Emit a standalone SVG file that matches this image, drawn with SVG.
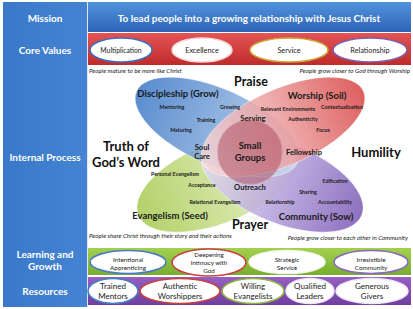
<svg xmlns="http://www.w3.org/2000/svg" width="413" height="309" viewBox="0 0 413 309">
<defs>
<linearGradient id="gLeft" x1="0" y1="0" x2="1" y2="0"><stop offset="0" stop-color="#3a78c9"/><stop offset="1" stop-color="#4584d2"/></linearGradient>
<linearGradient id="gMission" x1="0" y1="0" x2="0" y2="1"><stop offset="0" stop-color="#5294de"/><stop offset="1" stop-color="#2d63b5"/></linearGradient>
<linearGradient id="gCore" x1="0" y1="0" x2="0" y2="1"><stop offset="0" stop-color="#e45454"/><stop offset="1" stop-color="#bf2b2b"/></linearGradient>
<linearGradient id="gLearn" x1="0" y1="0" x2="0" y2="1"><stop offset="0" stop-color="#a3d14f"/><stop offset="1" stop-color="#78ad2e"/></linearGradient>
<linearGradient id="gRes" x1="0" y1="0" x2="0" y2="1"><stop offset="0" stop-color="#9660c2"/><stop offset="1" stop-color="#6f3e9e"/></linearGradient>
<linearGradient id="vBlue" x1="0" y1="0" x2="1" y2="0"><stop offset="0" stop-color="#3c78c6"/><stop offset="0.5" stop-color="#7ea6da"/><stop offset="1" stop-color="#cddcf0"/></linearGradient>
<linearGradient id="vRed" x1="0" y1="0" x2="1" y2="0"><stop offset="0" stop-color="#f6dada"/><stop offset="0.5" stop-color="#ec9c9c"/><stop offset="1" stop-color="#d84444"/></linearGradient>
<linearGradient id="vGreen" x1="0" y1="0" x2="1" y2="0"><stop offset="0" stop-color="#a6c94e"/><stop offset="0.55" stop-color="#cde196"/><stop offset="1" stop-color="#eef5dc"/></linearGradient>
<linearGradient id="vPurple" x1="0" y1="0" x2="1" y2="0"><stop offset="0" stop-color="#e6e0f3"/><stop offset="0.5" stop-color="#b5a1dc"/><stop offset="1" stop-color="#7a58b4"/></linearGradient>
<style>
text{font-family:Lato,"Liberation Sans",sans-serif}
.lbl{font-weight:700;fill:#fff;font-size:10px;text-anchor:middle}
.pill{fill:#fff;stroke-width:1.6}
.pt{font-size:7.3px;fill:#222;text-anchor:middle}
.lt{font-size:6.4px;fill:#222;text-anchor:middle}
.rt{font-size:8px;fill:#222;text-anchor:middle}
.big{font-weight:700;font-size:13px;fill:#111;text-anchor:middle}
.head{font-weight:700;font-size:9.5px;fill:#1a1a1a;text-anchor:middle}
.mid{font-weight:700;font-size:7.6px;fill:#1a1a1a;text-anchor:middle}
.sm{font-weight:700;font-size:5.3px;fill:#1a1a1a;text-anchor:middle}
.note{font-style:italic;font-size:6.2px;fill:#222}
.v{fill-opacity:0.85;stroke:#fff;stroke-opacity:0.5;stroke-width:0.8}
</style>
</defs>
<rect width="413" height="309" fill="#fff"/>

<g id="left-column">
<rect x="3" y="2" width="84" height="305" fill="url(#gLeft)"/>
<line x1="87.5" y1="2" x2="87.5" y2="307" stroke="#dfe8f4" stroke-width="1"/>
<text class="lbl" x="45" y="21.5">Mission</text>
<text class="lbl" x="45" y="53.5">Core Values</text>
<text class="lbl" x="45" y="161">Internal Process</text>
<text class="lbl" x="45" y="257.5">Learning and</text>
<text class="lbl" x="45" y="269.5">Growth</text>
<text class="lbl" x="45" y="295">Resources</text>
</g>

<g id="mission">
<rect x="88" y="2" width="323" height="30" fill="url(#gMission)"/>
<text class="lbl" x="249" y="21.5">To lead people into a growing relationship with Jesus Christ</text>
</g>

<g id="core-values">
<rect x="88" y="33" width="323" height="32" fill="url(#gCore)"/>
<g id="cv-multiplication"><ellipse class="pill" cx="121" cy="50" rx="31" ry="12" stroke="#3b6fc0"/><text class="pt" x="121" y="52.5" style="font-size:6.8px">Multiplication</text></g>
<g id="cv-excellence"><ellipse class="pill" cx="202" cy="50" rx="30" ry="12" stroke="#f3d6d6"/><text class="pt" x="202" y="52.5">Excellence</text></g>
<g id="cv-service"><ellipse class="pill" cx="289" cy="50" rx="39" ry="12" stroke="#c9a83a"/><text class="pt" x="289" y="52.5">Service</text></g>
<g id="cv-relationship"><ellipse class="pill" cx="370" cy="50" rx="37" ry="12" stroke="#7c5cab"/><text class="pt" x="370" y="52.5">Relationship</text></g>
</g>

<text class="note" x="89" y="73">People mature to be more like Christ</text>
<text class="note" x="410" y="73" text-anchor="end">People grow closer to God through Worship</text>

<g id="venn">
<g id="evangelism"><ellipse class="v" cx="218" cy="183" rx="86" ry="40" transform="rotate(-22 218 183)" fill="url(#vGreen)"/></g>
<g id="community"><ellipse class="v" cx="282" cy="183" rx="86" ry="40" transform="rotate(22 282 183)" fill="url(#vPurple)"/></g>
<g id="discipleship"><ellipse class="v" cx="217" cy="127" rx="88" ry="38" transform="rotate(24 217 127)" fill="url(#vBlue)"/></g>
<g id="worship"><ellipse class="v" cx="283" cy="127" rx="88" ry="38" transform="rotate(-24 283 127)" fill="url(#vRed)"/></g>
<g id="small-groups"><circle cx="250" cy="152" r="32" fill="#a33a4e" fill-opacity="0.45" stroke="#c98c98" stroke-width="1.2"/>
<text class="head" x="250" y="148.5">Small</text><text class="head" x="250" y="160.5">Groups</text></g>

<text class="head" x="178" y="96.5">Discipleship (Grow)</text>
<text class="sm" x="172" y="109">Mentoring</text>
<text class="sm" x="230" y="109">Growing</text>
<text class="sm" x="206" y="122">Training</text>
<text class="sm" x="181" y="132">Maturing</text>
<text class="mid" x="253" y="121">Serving</text>
<text class="mid" x="202" y="150">Soul</text>
<text class="mid" x="202" y="159">Care</text>

<text class="head" x="317" y="98.5">Worship (Soil)</text>
<text class="sm" x="288" y="111">Relevant Environments</text>
<text class="sm" x="342" y="109">Contextualization</text>
<text class="sm" x="303" y="121">Authenticity</text>
<text class="sm" x="323" y="132">Focus</text>
<text class="mid" x="304" y="155">Fellowship</text>

<text class="sm" x="175" y="176">Personal Evangelism</text>
<text class="sm" x="202" y="187">Acceptance</text>
<text class="sm" x="215" y="204">Relational Evangelism</text>
<text class="head" x="170" y="218.5">Evangelism (Seed)</text>
<text class="mid" x="250" y="190">Outreach</text>

<text class="sm" x="335" y="183">Edification</text>
<text class="sm" x="308" y="194">Sharing</text>
<text class="sm" x="280" y="204">Relationship</text>
<text class="sm" x="335" y="204">Accountability</text>
<text class="head" x="316" y="219.5">Community (Sow)</text>

<text class="big" x="251" y="85.5" style="font-size:12.5px">Praise</text>
<text class="big" x="250" y="228.5" style="font-size:12.5px">Prayer</text>
<text class="big" x="126" y="151">Truth of</text>
<text class="big" x="126" y="167">God’s Word</text>
<text class="big" x="376" y="156.5">Humility</text>
</g>

<text class="note" x="89" y="238">People share Christ through their story and their actions</text>
<text class="note" x="408" y="240" text-anchor="end">People grow closer to each other in Community</text>

<g id="learning-growth">
<rect x="88" y="248" width="323" height="27" fill="url(#gLearn)"/>
<g id="lg-apprenticing"><ellipse class="pill" cx="128" cy="262" rx="38" ry="11.5" stroke="#4a7cc4"/><text class="lt" x="128" y="261.5">Intentional</text><text class="lt" x="128" y="269.5">Apprenticing</text></g>
<g id="lg-intimacy"><ellipse class="pill" cx="209" cy="262.5" rx="37" ry="13.5" stroke="#c84040"/><text class="lt" x="209" y="257.3" style="font-size:6.2px">Deepening</text><text class="lt" x="209" y="265.1" style="font-size:6.2px">Intimacy with</text><text class="lt" x="209" y="272.9" style="font-size:6.2px">God</text></g>
<g id="lg-service"><ellipse class="pill" cx="287" cy="262" rx="38" ry="11.5" stroke="#f4f8ec"/><text class="lt" x="287" y="261.5">Strategic</text><text class="lt" x="287" y="269.5">Service</text></g>
<g id="lg-community"><ellipse class="pill" cx="371" cy="262" rx="37" ry="11.5" stroke="#8a6ab8"/><text class="lt" x="371" y="261.5">Irresistible</text><text class="lt" x="371" y="269.5">Community</text></g>
</g>

<g id="resources">
<rect x="88" y="277" width="323" height="28" fill="url(#gRes)"/>
<g id="r-mentors"><ellipse class="pill" cx="113" cy="291" rx="25" ry="12.5" stroke="#4a7cc4"/><text class="rt" x="113" y="289">Trained</text><text class="rt" x="113" y="299">Mentors</text></g>
<g id="r-worshippers"><ellipse class="pill" cx="180" cy="291" rx="40" ry="12.5" stroke="#c84040"/><text class="rt" x="180" y="289">Authentic</text><text class="rt" x="180" y="299">Worshippers</text></g>
<g id="r-evangelists"><ellipse class="pill" cx="253" cy="291" rx="31" ry="12.5" stroke="#8cb244"/><text class="rt" x="253" y="289">Willing</text><text class="rt" x="253" y="299">Evangelists</text></g>
<g id="r-leaders"><ellipse class="pill" cx="310" cy="291" rx="24" ry="12.5" stroke="#efe8f6"/><text class="rt" x="310" y="289">Qualified</text><text class="rt" x="310" y="299">Leaders</text></g>
<g id="r-givers"><ellipse class="pill" cx="372" cy="291" rx="36" ry="12.5" stroke="#efe8f6"/><text class="rt" x="372" y="289">Generous</text><text class="rt" x="372" y="299">Givers</text></g>
</g>
</svg>
